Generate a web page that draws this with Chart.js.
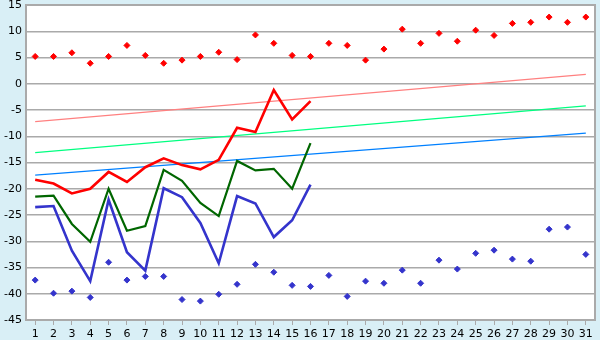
<!DOCTYPE html>
<html>
<head>
<meta charset="utf-8">
<script src="https://cdn.jsdelivr.net/npm/chart.js@4/dist/chart.umd.min.js"></script>
<style>
  html, body { margin: 0; padding: 0; background: #d9eff6; }
  #wrap { width: 600px; height: 340px; }
</style>
</head>
<body>
<div id="wrap"><canvas id="chart" width="600" height="340"></canvas></div>
<script>
let days = [];
for (let d = 1; d <= 31; d++) days.push(String(d));

// daily maximum (red markers)
let maxPoints = [5.2, 5.2, 5.9, 3.9, 5.2, 7.3, 5.4, 3.9, 4.5, 5.2,
  6.0, 4.6, 9.3, 7.7, 5.4, 5.2, 7.7, 7.3, 4.5, 6.6,
  10.4, 7.7, 9.6, 8.1, 10.2, 9.2, 11.5, 11.7, 12.7, 11.7, 12.7];

// daily minimum (blue markers)
let minPoints = [-37.4, -39.9, -39.5, -40.7, -34.0, -37.4, -36.7, -36.7, -41.1, -41.4,
  -40.1, -38.2, -34.4, -35.9, -38.4, -38.6, -36.5, -40.5, -37.6, -38.0,
  -35.5, -38.0, -33.6, -35.3, -32.3, -31.7, -33.4, -33.8, -27.7, -27.3, -32.5];

// measured lines, first 16 days
let redLine = [-18.3, -19.0, -20.9, -20.0, -16.8, -18.7, -15.9, -14.2, -15.5, -16.3,
  -14.5, -8.4, -9.2, -1.2, -6.8, -3.3];
let greenLine = [-21.5, -21.3, -26.7, -30.1, -20.0, -28.0, -27.1, -16.4, -18.5, -22.7,
  -25.2, -14.7, -16.5, -16.2, -20.0, -11.3];
let blueLine = [-23.5, -23.3, -31.8, -37.6, -22.1, -32.1, -35.6, -19.9, -21.6, -26.5,
  -34.2, -21.4, -22.8, -29.2, -26.0, -19.2];

// trend lines: value on day 1 and day 31
let redTrend = [-7.2, 1.8];
let greenTrend = [-13.1, -4.2];
let blueTrend = [-17.4, -9.4];

let yTicks = [15, 10, 5, 0, -5, -10, -15, -20, -25, -30, -35, -40, -45];

function endsOnly(pair) {
  let arr = days.map(() => null);
  arr[0] = pair[0];
  arr[days.length - 1] = pair[1];
  return arr;
}

let plotBox = {
  id: 'plotBox',
  beforeDraw(chart) {
    let a = chart.chartArea, ctx = chart.ctx;
    ctx.save();
    ctx.fillStyle = '#ffffff';
    ctx.fillRect(a.left, a.top, a.right - a.left, a.bottom - a.top);
    ctx.restore();
  },
  afterDraw(chart) {
    let a = chart.chartArea, ctx = chart.ctx;
    ctx.save();
    ctx.strokeStyle = '#aaaaaa';
    ctx.lineWidth = 2;
    ctx.strokeRect(a.left, a.top, a.right - a.left, a.bottom - a.top);
    ctx.restore();
  }
};

let trend = (data, color) => ({
  type: 'line', data: endsOnly(data), borderColor: color, borderWidth: 1.3,
  pointRadius: 0, spanGaps: true, order: 5
});
let curve = (data, color, w) => ({
  type: 'line', data: data, borderColor: color, borderWidth: w,
  pointRadius: 0, tension: 0, order: 2
});
let marks = (data, color) => ({
  type: 'line', data: data, showLine: false, pointStyle: 'rectRot',
  pointRadius: 3, pointBackgroundColor: color, pointBorderColor: color,
  pointBorderWidth: 1, order: 1
});

new Chart(document.getElementById('chart'), {
  type: 'line',
  data: {
    labels: days,
    datasets: [
      trend(redTrend, '#ff8080'),
      trend(greenTrend, '#00ff80'),
      trend(blueTrend, '#0080ff'),
      curve(blueLine, '#3434cc', 2.6),
      curve(greenLine, '#006600', 2.2),
      curve(redLine, '#ff0000', 2.6),
      marks(maxPoints, '#ff0000'),
      marks(minPoints, '#3434cc')
    ]
  },
  options: {
    responsive: false,
    animation: false,
    layout: { padding: { top: 0, right: 5, left: 0, bottom: 0 } },
    plugins: { legend: { display: false }, tooltip: { enabled: false } },
    scales: {
      x: {
        offset: true,
        afterFit: s => { s.height = 20; },
        grid: { drawOnChartArea: false, drawTicks: true, tickLength: 5, color: '#aaaaaa', offset: false },
        border: { color: '#aaaaaa', width: 2 },
        ticks: { color: '#000', font: { family: 'DejaVu Sans', size: 11 }, padding: 3, maxRotation: 0, autoSkip: false }
      },
      y: {
        min: -45, max: 15,
        afterFit: s => { s.width = 26; s.paddingTop = 5; },
        afterBuildTicks: s => { s.ticks = yTicks.map(v => ({ value: v })); },
        grid: { color: '#aaaaaa', lineWidth: 1.5, drawTicks: false },
        border: { color: '#aaaaaa', width: 2 },
        ticks: { color: '#000', font: { family: 'DejaVu Sans', size: 11 }, padding: 4 }
      }
    }
  },
  plugins: [plotBox]
});
</script>
</body>
</html>
